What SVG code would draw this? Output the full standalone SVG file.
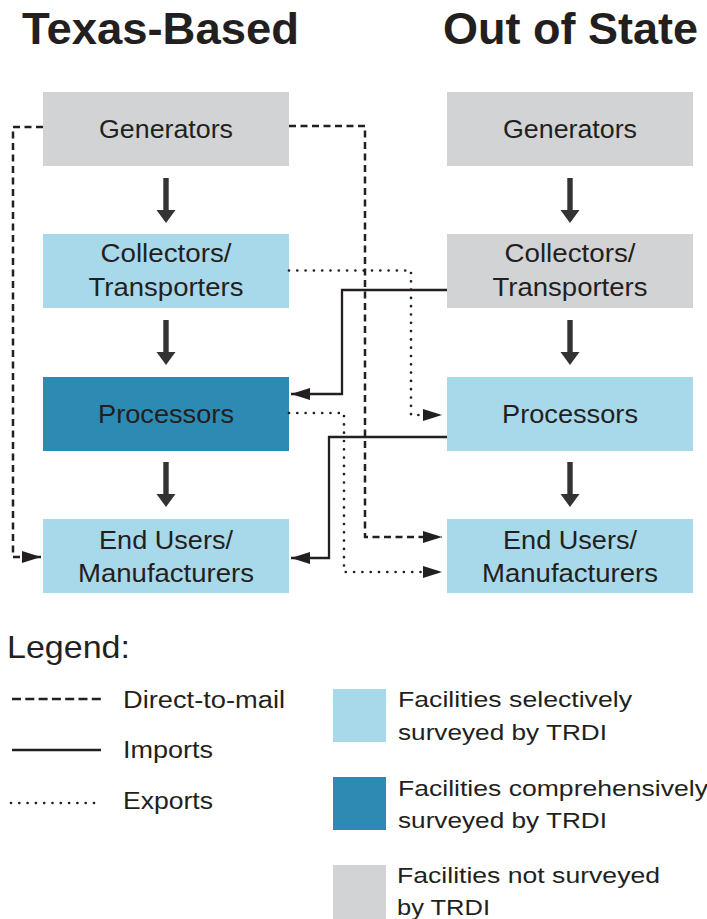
<svg xmlns="http://www.w3.org/2000/svg" xmlns:xlink="http://www.w3.org/1999/xlink" width="707" height="919" viewBox="0 0 707 919">
<style>
  .t { font-family: "Liberation Sans", Arial, sans-serif; fill: #231f20; }
  .title { font-size: 45px; font-weight: bold; }
  .box { font-size: 25px; text-anchor: middle; }
  .lg { font-size: 23px; }
  .lg2 { font-size: 22px; }
  .light { fill: #a8d9ea; }
  .dark { fill: #2d8ab3; }
  .gray { fill: #d1d3d4; }
  .ln { fill: none; stroke: #231f20; stroke-width: 2.3; }
  .dash { stroke-dasharray: 7 4.5; stroke-width: 2.5; }
  .dot { stroke-dasharray: 0 8.3; stroke-linecap: round; stroke-width: 2.7; }
  .big { fill: #333333; }
</style>
<defs>
  <marker id="ah" markerUnits="userSpaceOnUse" markerWidth="19" markerHeight="12" refX="19" refY="6" orient="auto">
    <path d="M0,0 L19,6 L0,12 z" fill="#231f20"/>
  </marker>
  <path id="down" d="M-2.7,0 H2.7 V32 H9.5 L0,45 L-9.5,32 H-2.7 z"/>
</defs>

<rect width="707" height="919" fill="#ffffff"/>

<text class="t title" x="22" y="44" textLength="277" lengthAdjust="spacingAndGlyphs">Texas-Based</text>
<text class="t title" x="443" y="44" textLength="255" lengthAdjust="spacingAndGlyphs">Out of State</text>

<g id="tx-generators">
  <rect class="gray" x="43" y="92" width="246" height="74"/>
  <text class="t box" x="166" y="138" textLength="134" lengthAdjust="spacingAndGlyphs">Generators</text>
</g>
<g id="tx-collectors">
  <rect class="light" x="43" y="234" width="246" height="74"/>
  <text class="t box" x="166" y="262" textLength="131" lengthAdjust="spacingAndGlyphs">Collectors/</text>
  <text class="t box" x="166" y="296" textLength="155" lengthAdjust="spacingAndGlyphs">Transporters</text>
</g>
<g id="tx-processors">
  <rect class="dark" x="43" y="377" width="246" height="74"/>
  <text class="t box" x="166" y="423" textLength="136" lengthAdjust="spacingAndGlyphs">Processors</text>
</g>
<g id="tx-endusers">
  <rect class="light" x="43" y="519" width="246" height="74"/>
  <text class="t box" x="166" y="549" textLength="134" lengthAdjust="spacingAndGlyphs">End Users/</text>
  <text class="t box" x="166" y="582" textLength="176" lengthAdjust="spacingAndGlyphs">Manufacturers</text>
</g>

<g id="os-generators">
  <rect class="gray" x="447" y="92" width="246" height="74"/>
  <text class="t box" x="570" y="138" textLength="134" lengthAdjust="spacingAndGlyphs">Generators</text>
</g>
<g id="os-collectors">
  <rect class="gray" x="447" y="234" width="246" height="74"/>
  <text class="t box" x="570" y="262" textLength="131" lengthAdjust="spacingAndGlyphs">Collectors/</text>
  <text class="t box" x="570" y="296" textLength="155" lengthAdjust="spacingAndGlyphs">Transporters</text>
</g>
<g id="os-processors">
  <rect class="light" x="447" y="377" width="246" height="74"/>
  <text class="t box" x="570" y="423" textLength="136" lengthAdjust="spacingAndGlyphs">Processors</text>
</g>
<g id="os-endusers">
  <rect class="light" x="447" y="519" width="246" height="74"/>
  <text class="t box" x="570" y="549" textLength="134" lengthAdjust="spacingAndGlyphs">End Users/</text>
  <text class="t box" x="570" y="582" textLength="176" lengthAdjust="spacingAndGlyphs">Manufacturers</text>
</g>

<g id="connectors">
  <use href="#down" xlink:href="#down" class="big" x="166" y="178"/>
  <use href="#down" xlink:href="#down" class="big" x="166" y="320"/>
  <use href="#down" xlink:href="#down" class="big" x="166" y="462"/>
  <use href="#down" xlink:href="#down" class="big" x="570" y="178"/>
  <use href="#down" xlink:href="#down" class="big" x="570" y="320"/>
  <use href="#down" xlink:href="#down" class="big" x="570" y="462"/>

  <path class="ln dash" d="M43,127 H13 V557 H41" marker-end="url(#ah)"/>
  <path class="ln dash" d="M289,126 H365 V537 H442" marker-end="url(#ah)"/>
  <path class="ln dot" d="M289,270.5 H411 V415 H442" marker-end="url(#ah)"/>
  <path class="ln dot" d="M289,413 H344 V572 H442" marker-end="url(#ah)"/>
  <path class="ln" d="M447,290 H342 V394 H291" marker-end="url(#ah)"/>
  <path class="ln" d="M447,437 H329 V558 H291" marker-end="url(#ah)"/>
</g>

<g id="legend">
  <text class="t" x="7" y="658" font-size="32" textLength="123" lengthAdjust="spacingAndGlyphs">Legend:</text>
  <line class="ln" x1="12" y1="699" x2="101" y2="699" stroke-dasharray="9 4.3"/>
  <line class="ln" x1="12" y1="750" x2="101" y2="750" stroke-width="2.6"/>
  <line class="ln dot" x1="11" y1="803" x2="102" y2="803" stroke-dasharray="0 8" stroke-width="2.2"/>
  <text class="t lg" x="123" y="708" textLength="162" lengthAdjust="spacingAndGlyphs">Direct-to-mail</text>
  <text class="t lg" x="123" y="758" textLength="90" lengthAdjust="spacingAndGlyphs">Imports</text>
  <text class="t lg" x="123" y="809" textLength="90" lengthAdjust="spacingAndGlyphs">Exports</text>

  <rect class="light" x="333" y="689" width="53" height="53"/>
  <rect class="dark" x="333" y="777" width="53" height="53"/>
  <rect class="gray" x="333" y="865" width="53" height="54"/>
  <text class="t lg2" x="398" y="707" textLength="234" lengthAdjust="spacingAndGlyphs">Facilities selectively</text>
  <text class="t lg2" x="398" y="740" textLength="209" lengthAdjust="spacingAndGlyphs">surveyed by TRDI</text>
  <text class="t lg2" x="398" y="796" textLength="310" lengthAdjust="spacingAndGlyphs">Facilities comprehensively</text>
  <text class="t lg2" x="398" y="828" textLength="209" lengthAdjust="spacingAndGlyphs">surveyed by TRDI</text>
  <text class="t lg2" x="397" y="883" textLength="263" lengthAdjust="spacingAndGlyphs">Facilities not surveyed</text>
  <text class="t lg2" x="397" y="915" textLength="93" lengthAdjust="spacingAndGlyphs">by TRDI</text>
</g>
</svg>
